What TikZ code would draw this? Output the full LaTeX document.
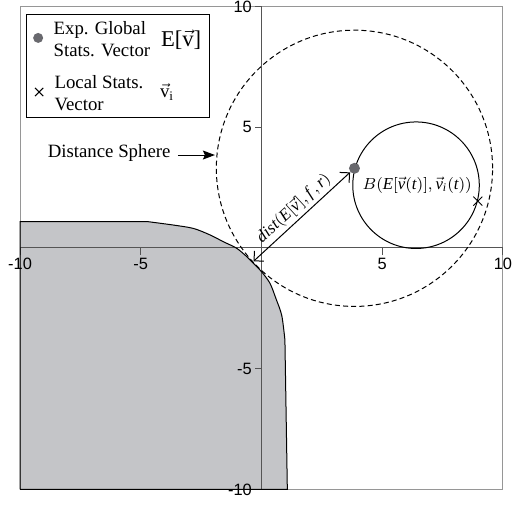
\documentclass[tikz,border=0pt]{standalone}
\usepackage{fontspec}
\setmainfont{Liberation Serif}
\setsansfont{Liberation Sans}
\usetikzlibrary{arrows.meta,shapes.misc}
\definecolor{regiongray}{RGB}{196,197,200}
\definecolor{framegray}{RGB}{150,150,150}
\definecolor{axisgray}{RGB}{85,85,85}
\definecolor{dotgray}{RGB}{105,105,110}
\tikzset{every path/.style={line width=0.5pt},
  ticklabel/.style={font=\sffamily\fontsize{8.2}{9}\selectfont, inner sep=1pt},
  txt/.style={font=\rmfamily\fontsize{9.4}{11}\selectfont, inner sep=0pt},
  mathlabel/.style={font=\rmfamily\fontsize{8.4}{10}\selectfont, inner sep=0pt},
  statdot/.style={circle, fill=dotgray, inner sep=0pt, minimum size=5.5pt},
  statcross/.style={cross out, draw, inner sep=0pt, minimum size=4pt}}

\begin{document}
\begin{tikzpicture}[x=12.075pt,y=12.075pt]
    \useasboundingbox (-10.83,-10.68) rectangle (10.54,10.27);

    % area below the limit
    \fill[regiongray] (-10,-10) -- (-10,1.09) -- (-4.7,1.09)
      -- plot[smooth] coordinates {(-4.7,1.09) (-3.65,0.95) (-2.82,0.81) (-2.13,0.54) (-1.58,0.26) (-1.03,-0.01) (-0.61,-0.36) (-0.27,-0.70) (0,-0.98) (0.35,-1.46) (0.6,-2.1) (0.84,-2.8) (0.97,-3.81)}
      -- (1.07,-10) -- cycle;
    \draw[framegray] (-10,-10) rectangle (10,10);

    \draw[axisgray] (-10,0) -- (10,0);
    \draw[axisgray] (0,-10) -- (0,10);
    \foreach \t in {-10,-5,5,10} {
      \draw[axisgray] (\t,0) -- (\t,-0.27);
      \draw[axisgray] (0,\t) -- (-0.27,\t);
      \node[ticklabel, anchor=north] (xl\t) at (\t,-0.3) {\t};
      \node[ticklabel, anchor=east] (yl\t) at (-0.3,\t) {\t};
    }

    \draw (-10,-10) -- (-10,1.09) -- (-4.7,1.09)
      -- plot[smooth] coordinates {(-4.7,1.09) (-3.65,0.95) (-2.82,0.81) (-2.13,0.54) (-1.58,0.26) (-1.03,-0.01) (-0.61,-0.36) (-0.27,-0.70) (0,-0.98) (0.35,-1.46) (0.6,-2.1) (0.84,-2.8) (0.97,-3.81)}
      -- (1.07,-10) -- (-10,-10);

    % spheres
    \draw[dash pattern=on 2.5pt off 1.6pt] (3.85,3.3) circle (5.72);
    \draw (6.4,2.6) circle (2.62);

    \node[statdot] (global) at (3.85,3.3) {};
    \node[statcross] (local) at (8.96,1.94) {};
    \node[mathlabel] (ball) at (6.45,2.61) {$B(\mathit{E}[\vec{\mathit{v}}(\mathit{t})],\vec{\mathit{v}}_{\mathit{i}}(\mathit{t}))$};

    \coordinate (touch) at (-0.33,-0.55);
    \draw[{Straight Barb[length=3.5pt,width=7pt]}-{Straight Barb[length=3.5pt,width=7pt]}] (global) --
      node[mathlabel, midway, sloped, above, inner sep=1.5pt] {$\mathit{dist}(\mathit{E}[\vec{\mathit{v}}],\mathit{f}\,,\mathit{r})$} (touch);

    \node[txt] (sphere) at (-6.31,3.93) {Distance Sphere};
    \coordinate (rim) at (-1.93,3.85);
    \draw[-{Stealth[length=6pt,width=4.5pt,inset=1pt]}] (-3.46,3.85) -- (rim);

    % legend
    \draw (-9.75,5.42) rectangle (-2.17,9.69);
    \node[statdot, minimum size=5pt] (legdot) at (-9.25,8.70) {};
    \node[txt, anchor=west, align=left] (legglobal) at (-8.63,8.66) {Exp. Global\\Stats. Vector};
    \node[font=\rmfamily\fontsize{11.3}{13}\selectfont, inner sep=0pt] (legE) at (-3.33,8.61) {E[$\vec{\mathrm{v}}$]};
    \node[cross out, draw, inner sep=0pt, minimum size=3.6pt] (legcross) at (-9.21,6.46) {};
    \node[txt, anchor=west, align=left] (leglocal) at (-8.59,6.42) {Local Stats.\\Vector};
    \node[txt] (legvi) at (-3.91,6.46) {$\vec{\mathrm{v}}_{\mathrm{i}}$};
\end{tikzpicture}
\end{document}
